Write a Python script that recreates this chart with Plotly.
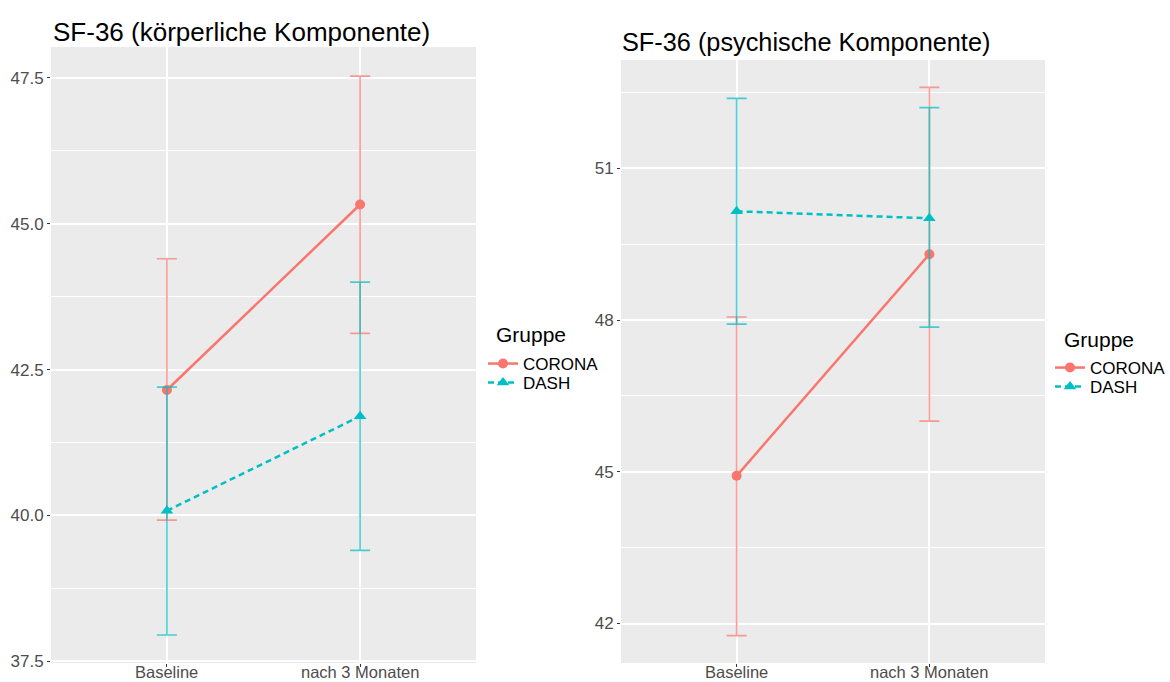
import plotly.graph_objects as go

# Messzeitpunkte
time_points = ["Baseline", "nach 3 Monaten"]

# SF-36 körperliche Komponente: Mittelwert, untere und obere Grenze
corona_phys_mean = [42.15, 45.33]
corona_phys_lo = [39.92, 43.12]
corona_phys_hi = [44.40, 47.53]
dash_phys_mean = [40.08, 41.70]
dash_phys_lo = [37.95, 39.40]
dash_phys_hi = [42.20, 44.00]

# SF-36 psychische Komponente
corona_psych_mean = [44.92, 49.30]
corona_psych_lo = [41.76, 46.00]
corona_psych_hi = [48.06, 52.60]
dash_psych_mean = [50.15, 50.01]
dash_psych_lo = [47.92, 47.86]
dash_psych_hi = [52.38, 52.20]

phys_ticks = [37.5, 40.0, 42.5, 45.0, 47.5]
psych_ticks = [42, 45, 48, 51]

RED = "#F8766D"
TEAL = "#00BFC4"
RED_EB = "rgba(248,118,109,0.7)"
TEAL_EB = "rgba(0,191,196,0.7)"
FONT = "Liberation Sans, Arial, sans-serif"

W, H = 1170, 682
fig = go.Figure()


def add_group(name, mean, lo, hi, color, eb_color, symbol, dash, xa, ya, legend):
    fig.add_trace(go.Scatter(
        x=time_points, y=mean, name=name, mode="lines+markers",
        line=dict(color=color, width=2.5, dash=dash),
        marker=dict(color=color, symbol=symbol, size=10 if symbol == "circle" else 11),
        error_y=dict(type="data", symmetric=False,
                     array=[h - m for h, m in zip(hi, mean)],
                     arrayminus=[m - l for m, l in zip(mean, lo)],
                     color=eb_color, thickness=1.7, width=10),
        xaxis=xa, yaxis=ya, legend=legend, showlegend=True,
    ))


add_group("CORONA", corona_phys_mean, corona_phys_lo, corona_phys_hi, RED, RED_EB,
          "circle", "solid", "x", "y", "legend2")
add_group("DASH", dash_phys_mean, dash_phys_lo, dash_phys_hi, TEAL, TEAL_EB,
          "triangle-up", "6px,4px", "x", "y", "legend3")
add_group("CORONA", corona_psych_mean, corona_psych_lo, corona_psych_hi, RED, RED_EB,
          "circle", "solid", "x2", "y2", "legend4")
add_group("DASH", dash_psych_mean, dash_psych_lo, dash_psych_hi, TEAL, TEAL_EB,
          "triangle-up", "6px,4px", "x2", "y2", "legend5")

tick_font = dict(family=FONT, size=17, color="#4D4D4D")

xaxis_common = dict(
    type="category", range=[-0.6, 1.6], showgrid=True, gridcolor="white", gridwidth=1.8,
    zeroline=False, showline=False, ticks="outside", ticklen=3, tickcolor="#333333",
    tickwidth=1, showticklabels=False, fixedrange=True, automargin=False,
)
yaxis_common = dict(
    showgrid=True, gridcolor="white", gridwidth=1.8, zeroline=False, showline=False,
    ticks="outside", ticklen=3, tickcolor="#333333", tickwidth=1, tickfont=tick_font,
    automargin=False,
)


def px_x(a, b):
    return [a / W, b / W]


def px_y(top, bottom):
    return [1 - bottom / H, 1 - top / H]


def key_legend(x_px, y_px):
    return dict(
        x=x_px / W, y=1 - y_px / H, xanchor="left", yanchor="middle",
        font=dict(family=FONT, size=17, color="black"), bgcolor="rgba(0,0,0,0)",
        itemwidth=30, borderwidth=0, visible=True,
    )


annotations = [
    dict(text="SF-36 (körperliche Komponente)", x=51 / W, y=1 - 32 / H,
         xref="paper", yref="paper", xanchor="left", yanchor="middle",
         showarrow=False, font=dict(size=26, color="black")),
    dict(text="SF-36 (psychische Komponente)", x=620 / W, y=1 - 42 / H,
         xref="paper", yref="paper", xanchor="left", yanchor="middle",
         showarrow=False, font=dict(size=25.3, color="black")),
    dict(text="Gruppe", x=494 / W, y=1 - 334 / H,
         xref="paper", yref="paper", xanchor="left", yanchor="middle",
         showarrow=False, font=dict(size=21, color="black")),
    dict(text="Gruppe", x=1062 / W, y=1 - 339 / H,
         xref="paper", yref="paper", xanchor="left", yanchor="middle",
         showarrow=False, font=dict(size=21, color="black")),
]
# Beschriftung der Messzeitpunkte unter beiden Panels
for xref in ("x", "x2"):
    for tp in time_points:
        annotations.append(dict(
            text=tp, x=tp, xref=xref, y=0, yref="paper", xanchor="center",
            yanchor="bottom", showarrow=False, borderpad=0,
            font=dict(family=FONT, size=16.5, color="#4D4D4D"),
        ))

fig.update_layout(
    width=W, height=H,
    showlegend=True,
    margin=dict(l=0, r=0, t=0, b=0, autoexpand=False),
    paper_bgcolor="white",
    plot_bgcolor="#EBEBEB",
    font=dict(family=FONT, color="black"),
    xaxis=dict(xaxis_common, domain=px_x(51, 476), anchor="y"),
    yaxis=dict(yaxis_common, domain=px_y(47, 663), anchor="x", range=[37.47, 48.03],
               tickvals=phys_ticks, ticktext=[f"{v:.1f}" for v in phys_ticks],
               minor=dict(showgrid=True, gridcolor="white", gridwidth=0.9,
                          tickvals=[38.75, 41.25, 43.75, 46.25], ticks="")),
    xaxis2=dict(xaxis_common, domain=px_x(621, 1045), anchor="y2"),
    yaxis2=dict(yaxis_common, domain=px_y(60, 663), anchor="x2", range=[41.22, 53.14],
                tickvals=psych_ticks, ticktext=[str(v) for v in psych_ticks],
                minor=dict(showgrid=True, gridcolor="white", gridwidth=0.9,
                           tickvals=[43.5, 46.5, 49.5, 52.5], ticks="")),
    legend=dict(visible=False),
    legend2=key_legend(483, 364),
    legend3=key_legend(483, 383),
    legend4=key_legend(1050, 368),
    legend5=key_legend(1050, 387),
    annotations=annotations,
)

fig.write_html("out.html")
